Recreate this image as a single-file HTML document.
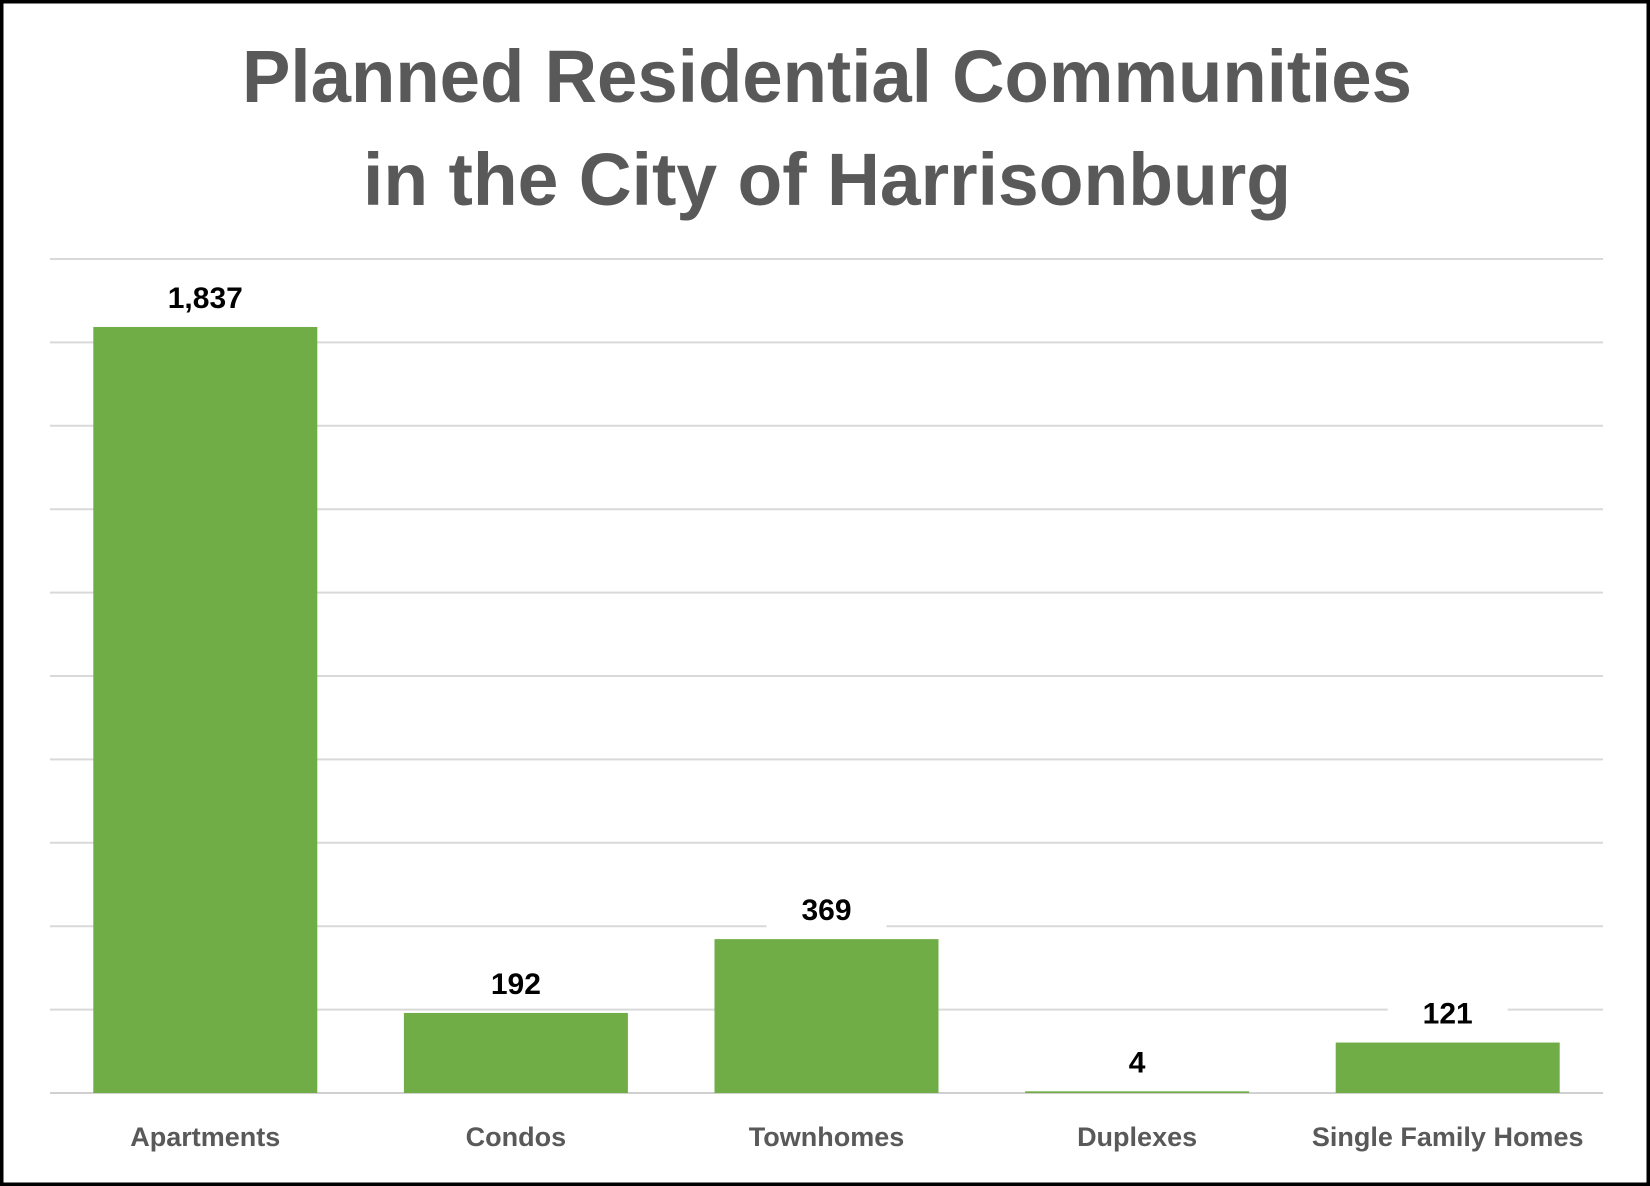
<!DOCTYPE html>
<html><head><meta charset="utf-8"><style>
html,body{margin:0;padding:0;background:#fff;}
svg{display:block;}
text{font-family:"Liberation Sans",Arial,sans-serif;font-weight:bold;}
</style></head><body>
<svg id="chart" width="1650" height="1186" viewBox="0 0 1650 1186" xmlns="http://www.w3.org/2000/svg">
<rect x="1.5" y="1.5" width="1647" height="1183" fill="#fff" stroke="#000" stroke-width="4"/>
<text x="827" y="102" text-anchor="middle" font-size="74" fill="#595959" textLength="1170" lengthAdjust="spacingAndGlyphs">Planned Residential Communities</text>
<text x="827" y="205" text-anchor="middle" font-size="74" fill="#595959" textLength="928" lengthAdjust="spacingAndGlyphs">in the City of Harrisonburg</text>
<g id="grid"></g>
<g id="bars"></g>
<g id="labels"></g>
</svg>
<script>
const categories = ["Apartments","Condos","Townhomes","Duplexes","Single Family Homes"];
const values = [1837,192,369,4,121];
const valueLabels = ["1,837","192","369","4","121"];
const yMax = 2000;
const yStep = 200;

const NS = "http://www.w3.org/2000/svg";
const plotL = 50, plotR = 1603, plotT = 259, plotB = 1093;
const y = v => plotB - (v / yMax) * (plotB - plotT);
const band = (plotR - plotL) / categories.length;
const x = i => plotL + band * i + band / 2;
const barW = 224;
function mk(tag, attrs, parent){const e=document.createElementNS(NS,tag);for(const k in attrs)e.setAttribute(k,attrs[k]);parent.appendChild(e);return e;}
const grid=document.getElementById('grid'),bars=document.getElementById('bars'),labels=document.getElementById('labels');
for(let v=0;v<=yMax;v+=yStep){
  const l=mk('line',{x1:plotL,x2:plotR,y1:y(v),y2:y(v),stroke:v===0?'#d0d0d0':'#d9d9d9','stroke-width':2},grid);
  
  
}
categories.forEach((c,i)=>{
  const top=y(values[i]);
  const r=mk('rect',{x:x(i)-barW/2,y:top,width:barW,height:Math.max(plotB-top,1.5),fill:'#70ad47'},bars);
  
  
  const bg=mk('rect',{x:x(i)-60,y:top-50,width:120,height:40,fill:'#fff'},labels);
  
  
  const t=mk('text',{x:x(i),y:top-19,'text-anchor':'middle','font-size':30,fill:'#000'},labels);
  t.textContent=valueLabels[i];
  
  
  const cl=mk('text',{x:x(i),y:1146,'text-anchor':'middle','font-size':27,fill:'#595959'},labels);
  cl.textContent=c;
  
  
});
</script>
</body></html>
